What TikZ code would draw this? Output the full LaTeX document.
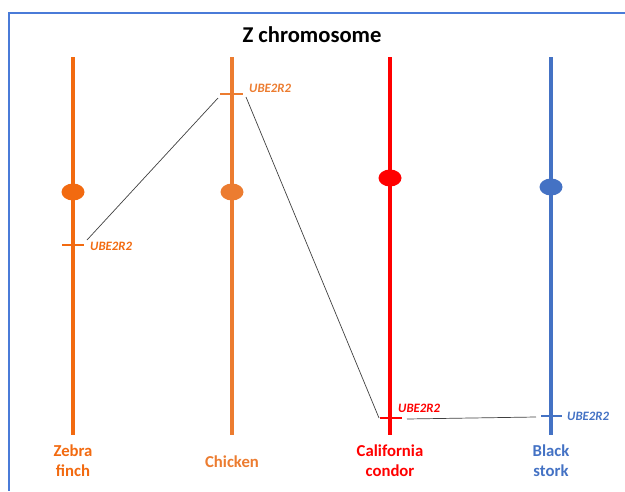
\documentclass[tikz,border=0pt]{standalone}
\usetikzlibrary{shapes.geometric}
\usepackage{fontspec}
\setmainfont{Carlito}
\definecolor{zf}{HTML}{F26A10}
\definecolor{ck}{HTML}{EC7C30}
\definecolor{cc}{HTML}{FF0000}
\definecolor{bs}{HTML}{4472C4}
\definecolor{frame}{HTML}{4A7BD8}
\begin{document}
\begin{tikzpicture}[x=1pt,y=-1pt,
  chrom/.style={line width=4.5pt},
  tick/.style={line width=2pt},
  centro/.style={ellipse, minimum width=23pt, minimum height=17pt, inner sep=0pt},
  gene/.style={font=\bfseries\itshape\fontsize{12.8}{14}\selectfont, anchor=west, inner sep=0pt},
  species/.style={font=\bfseries\fontsize{16.7}{20}\selectfont, align=center, inner sep=0pt},
  link/.style={line width=0.7pt, draw=black!75}]
\useasboundingbox (0,0) rectangle (625,491);
\draw[frame, line width=1.2pt] (625,13) -- (9,13) -- (9,491);
\node[font=\bfseries\fontsize{22.6}{26}\selectfont] (title) at (312,35) {Z chromosome};
% Zebra finch
\draw[chrom, zf] (73,57) -- (73,435);
\node[centro, fill=zf] (zfc) at (73,192) {};
\draw[tick, zf] (62,245) -- (84,245);
\node[gene, text=zf] (zfg) at (90,246) {UBE2R2};
\node[species, text=zf] (zfn) at (73,461) {Zebra\\finch};
% Chicken
\draw[chrom, ck] (232,57) -- (232,435);
\node[centro, fill=ck] (ckc) at (232,192) {};
\draw[tick, ck] (220,94) -- (243,94);
\node[gene, text=ck] (ckg) at (249,88) {UBE2R2};
\node[species, text=ck] (ckn) at (232,462) {Chicken};
% California condor
\draw[chrom, cc] (390,57) -- (390,435);
\node[centro, fill=cc] (ccc) at (390,178) {};
\draw[tick, cc] (380,418) -- (402,418);
\node[gene, text=cc] (ccg) at (398,408) {UBE2R2};
\node[species, text=cc] (ccn) at (390,461) {California\\condor};
% Black stork
\draw[chrom, bs] (551,57) -- (551,435);
\node[centro, fill=bs] (bsc) at (551,187) {};
\draw[tick, bs] (541,416) -- (562,416);
\node[gene, text=bs] (bsg) at (567,416) {UBE2R2};
\node[species, text=bs] (bsn) at (551,461) {Black\\stork};
% connectors
\coordinate (zfA) at (87,240);
\coordinate (ckA) at (218,98);
\coordinate (ckB) at (246,97);
\coordinate (ccA) at (379,418);
\coordinate (ccB) at (407,419);
\coordinate (bsA) at (536,417);
\draw[link] (zfA) -- (ckA);
\draw[link] (ckB) -- (ccA);
\draw[link] (ccB) -- (bsA);
\end{tikzpicture}
\end{document}
